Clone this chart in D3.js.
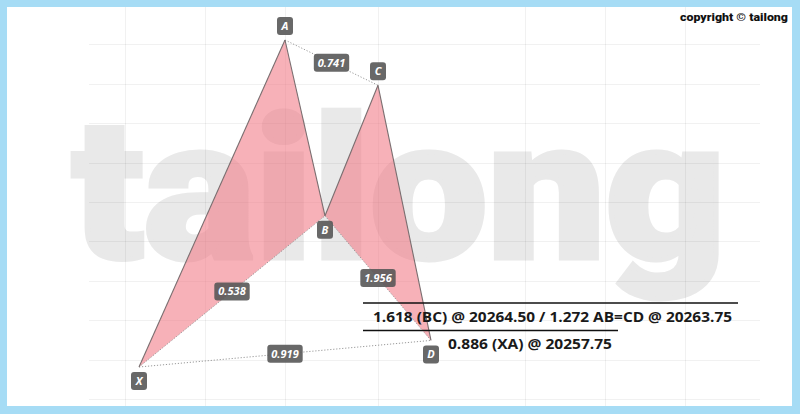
<!DOCTYPE html>
<html><head><meta charset="utf-8">
<script src="https://cdn.jsdelivr.net/npm/d3@7"></script>
<style>body{margin:0;background:#fff}svg{display:block}</style>
</head><body><svg id="c" width="800" height="414"></svg>
<script>
// ---- data ----
const pointNames  = ["X", "A", "B", "C", "D"];
const pointBars   = [20.85, 42.75, 48.75, 56.7, 64.65];
const pointPrices = [20250.5, 20316.9, 20281.2, 20307.7, 20255.9];
const pointIsHigh = [false, true, false, true, false];
const legs        = [["X","A"],["A","B"],["B","C"],["C","D"]];
const triangles   = [["X","A","B"],["B","C","D"]];
const ratioLinks  = [["A","C"],["X","B"],["B","D"],["X","D"]];
const ratioLabels = ["0.741", "0.538", "1.956", "0.919"];
const priceGrid   = [20244, 20252, 20260, 20268, 20276, 20284, 20292, 20300, 20308, 20316];
const barGrid     = [18.75, 30.75, 42.75, 56.7, 78.75, 90.75, 102.75];
const projectionTexts = ["1.618 (BC) @ 20264.50 / 1.272 AB=CD @ 20263.75", "0.886 (XA) @ 20257.75"];
const watermarkText = "tailong";
const copyrightText = "copyright \u00A9 tailong";

// ---- layout ----
const W = 800, H = 414, B = 7;
const svg = d3.select("#c");
const x = d3.scaleLinear().domain([0, 120]).range([0, 800]);
const y = d3.scaleLinear().domain([20316.9, 20250.5]).range([40, 367]);
const P = {};
pointNames.forEach((n, i) => P[n] = {x: x(pointBars[i]), y: y(pointPrices[i]), high: pointIsHigh[i]});

svg.append("rect").attr("width", W).attr("height", H).attr("fill", "#a6dcf5");
svg.append("rect").attr("x", B).attr("y", B).attr("width", 785).attr("height", 399).attr("fill", "#ffffff");

// watermark
svg.append("text").attr("x", 72).attr("y", 258)
  .attr("font-family", "Roboto, sans-serif").attr("font-weight", 900)
  .attr("font-size", 196).attr("fill", "#e9e9e9")
  .attr("stroke", "#e9e9e9").attr("stroke-width", 5).attr("stroke-linejoin", "miter")
  .attr("textLength", 654).attr("lengthAdjust", "spacingAndGlyphs")
  .text(watermarkText);

// grid
const grid = svg.append("g").attr("stroke", "rgba(0,0,0,0.055)").attr("stroke-width", 1);
grid.selectAll("line.h").data(priceGrid).join("line").attr("class", "h")
  .attr("x1", 89).attr("x2", 760)
  .attr("y1", d => Math.round(y(d)) + 0.5).attr("y2", d => Math.round(y(d)) + 0.5);
grid.selectAll("line.v").data(barGrid).join("line").attr("class", "v")
  .attr("y1", B).attr("y2", 406)
  .attr("x1", d => Math.round(x(d)) + 0.5).attr("x2", d => Math.round(x(d)) + 0.5);

// triangles
const line = d3.line().x(d => d.x).y(d => d.y);
svg.selectAll("path.tri").data(triangles).join("path").attr("class", "tri")
  .attr("d", t => line(t.map(n => P[n])) + "Z")
  .attr("fill", "rgba(242,120,133,0.58)").attr("stroke", "none");

// dotted ratio links
svg.selectAll("line.dot").data(ratioLinks).join("line").attr("class", "dot")
  .attr("x1", d => P[d[0]].x).attr("y1", d => P[d[0]].y)
  .attr("x2", d => P[d[1]].x).attr("y2", d => P[d[1]].y)
  .attr("stroke", "#9a9a9a").attr("stroke-width", 1).attr("stroke-dasharray", "1.2,1.8");

// solid legs
svg.selectAll("line.leg").data(legs).join("line").attr("class", "leg")
  .attr("x1", d => P[d[0]].x).attr("y1", d => P[d[0]].y)
  .attr("x2", d => P[d[1]].x).attr("y2", d => P[d[1]].y)
  .attr("stroke", "#7a6e70").attr("stroke-width", 1.1);

function badge(cx, cy, txt, minW) {
  const g = svg.append("g");
  const r = g.append("rect").attr("rx", 3).attr("ry", 3).attr("fill", "rgba(88,88,88,0.9)");
  const t = g.append("text").attr("x", cx).attr("y", cy + 4)
    .attr("text-anchor", "middle").attr("font-family", "'Open Sans', sans-serif")
    .attr("font-style", "italic").attr("font-weight", 700).attr("font-size", 11)
    .attr("fill", "#ffffff").text(txt);
  const w = Math.max(minW, t.node().getComputedTextLength() + 8);
  r.attr("x", cx - w / 2).attr("y", cy - 9).attr("width", w).attr("height", 18);
}

ratioLinks.forEach((l, i) => {
  const a = P[l[0]], b = P[l[1]];
  badge((a.x + b.x) / 2, (a.y + b.y) / 2, ratioLabels[i], 35);
});
pointNames.forEach(n => {
  const p = P[n];
  badge(p.x, p.high ? p.y - 14 : p.y + 14, n, 16);
});

// projection annotation
const ann = svg.append("g");
ann.append("line").attr("x1", 363).attr("x2", 738).attr("y1", 303).attr("y2", 303).attr("stroke", "#111").attr("stroke-width", 1.6);
ann.append("line").attr("x1", 363).attr("x2", 618).attr("y1", 330.5).attr("y2", 330.5).attr("stroke", "#111").attr("stroke-width", 1.6);
ann.append("text").attr("x", 373).attr("y", 322)
  .attr("font-family", "'Open Sans', sans-serif").attr("font-weight", 700).attr("font-size", 14.5)
  .attr("fill", "#1a1a1a").attr("textLength", 359).attr("lengthAdjust", "spacingAndGlyphs")
  .text(projectionTexts[0]);
ann.append("text").attr("x", 448).attr("y", 349)
  .attr("font-family", "'Open Sans', sans-serif").attr("font-weight", 700).attr("font-size", 14.5)
  .attr("fill", "#1a1a1a").attr("textLength", 164).attr("lengthAdjust", "spacingAndGlyphs")
  .text(projectionTexts[1]);

// copyright
svg.append("text").attr("x", 788).attr("y", 21).attr("text-anchor", "end")
  .attr("font-family", "Roboto, sans-serif").attr("font-weight", 900).attr("font-size", 11.5)
  .attr("fill", "#111").attr("textLength", 108).attr("lengthAdjust", "spacingAndGlyphs")
  .text(copyrightText);
</script></body></html>
